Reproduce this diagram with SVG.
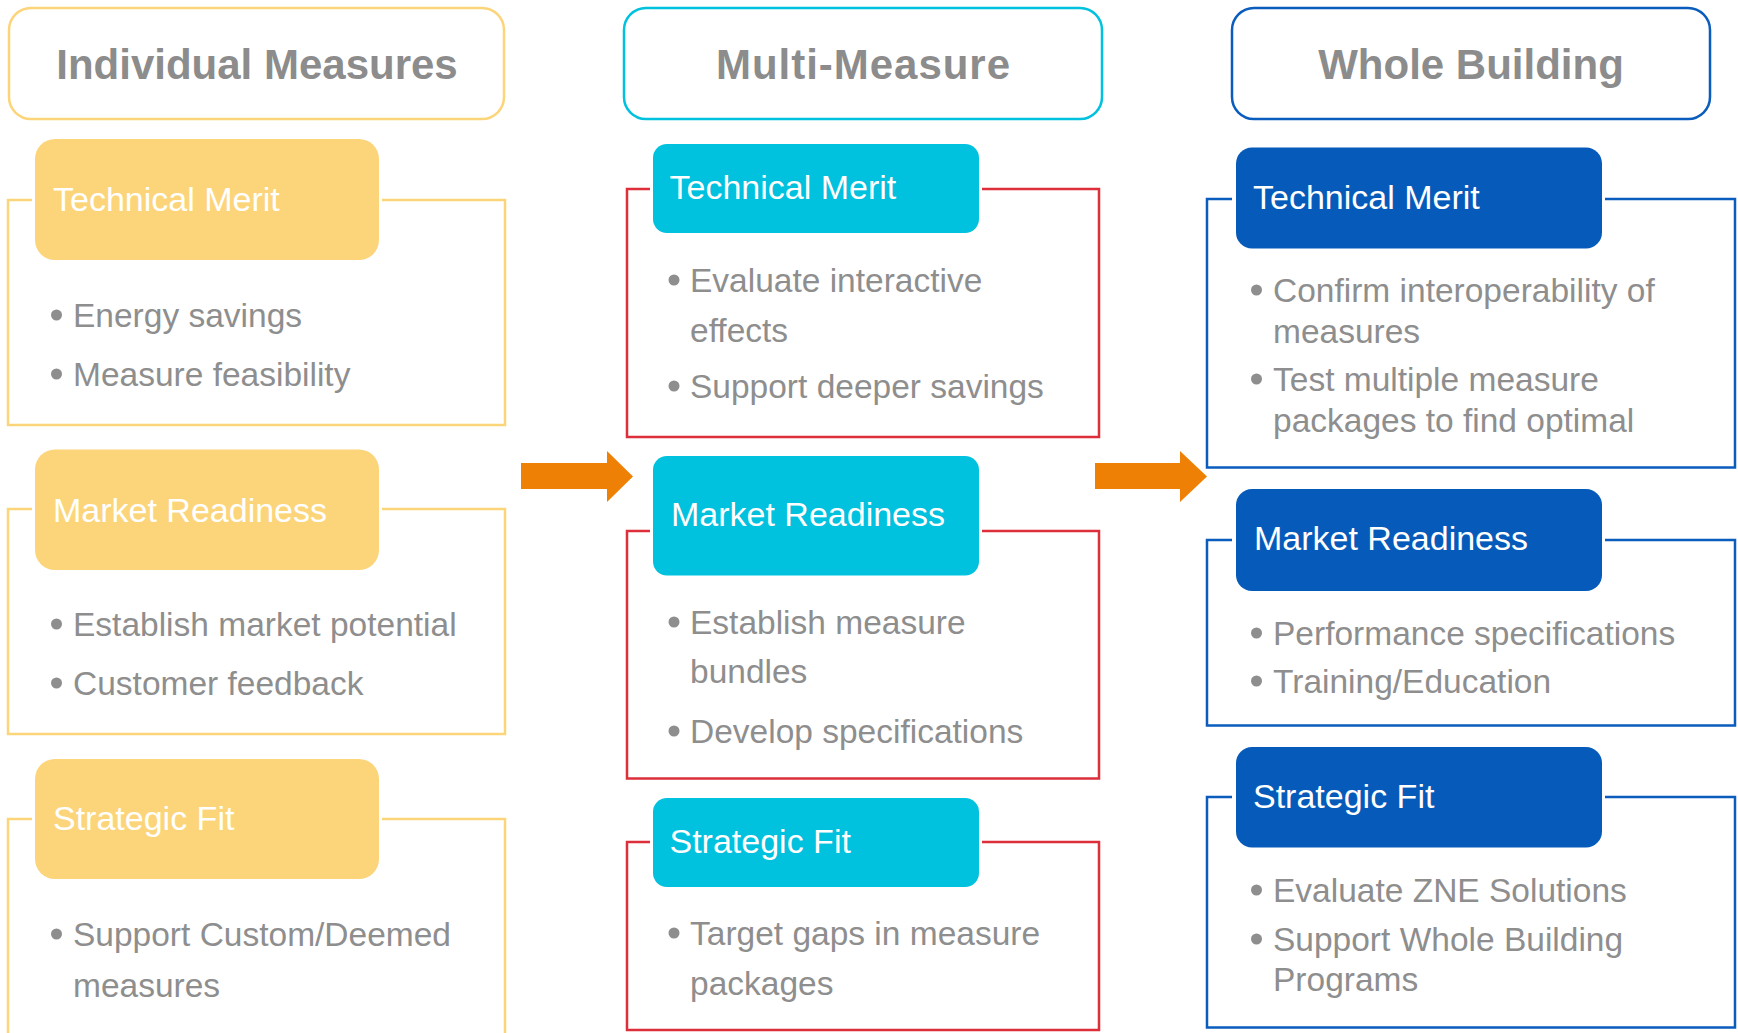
<svg xmlns="http://www.w3.org/2000/svg" width="1738" height="1033" viewBox="0 0 1738 1033">
<style>
text{font-family:"Liberation Sans",Arial,sans-serif}
.title{font-size:42px;font-weight:bold;fill:#8c8c8c;text-anchor:middle}
.lbl{font-size:34px;fill:#ffffff}
.bul{font-size:33.5px;fill:#8e8e8e}
.dot{fill:#8e8e8e}
.hy{fill:#ffffff;stroke:#fcd57a;stroke-width:2.5}
.hc{fill:#ffffff;stroke:#00c1de;stroke-width:2.5}
.hb{fill:#ffffff;stroke:#0a5cbd;stroke-width:2.5}
.by{fill:#fcd57a}
.bc{fill:#00c1de}
.bb{fill:#065bba}
.ky{fill:none;stroke:#fcd57a;stroke-width:2.5}
.kr{fill:none;stroke:#dc2f3a;stroke-width:2.5}
.kb{fill:none;stroke:#0a5cbd;stroke-width:2.5}
.arr{fill:#ee8105}
</style>
<rect width="1738" height="1033" fill="#ffffff"/>

<!-- Column 1: Individual Measures -->
<g id="hdr-individual">
<rect class="hy" x="9" y="8" width="495" height="111" rx="22"/>
<text class="title" x="257" y="79">Individual Measures</text>
</g>
<g id="ind-technical">
<path class="ky" d="M32 200 H8 V425 H505 V200 H382"/>
<rect class="by" x="35" y="139" width="344" height="121" rx="20"/>
<text class="lbl" x="53" y="211">Technical Merit</text>
<circle class="dot" cx="56.5" cy="315" r="5.5"/>
<text class="bul" x="73" y="327">Energy savings</text>
<circle class="dot" cx="56.5" cy="374" r="5.5"/>
<text class="bul" x="73" y="386">Measure feasibility</text>
</g>
<g id="ind-market">
<path class="ky" d="M32 509 H8 V734 H505 V509 H382"/>
<rect class="by" x="35" y="449.5" width="344" height="120.5" rx="20"/>
<text class="lbl" x="53" y="522">Market Readiness</text>
<circle class="dot" cx="56.5" cy="624" r="5.5"/>
<text class="bul" x="73" y="636">Establish market potential</text>
<circle class="dot" cx="56.5" cy="683" r="5.5"/>
<text class="bul" x="73" y="695">Customer feedback</text>
</g>
<g id="ind-strategic">
<path class="ky" d="M32 819 H8 V1040 M505 1040 V819 H382"/>
<rect class="by" x="35" y="759" width="344" height="120" rx="20"/>
<text class="lbl" x="53" y="830">Strategic Fit</text>
<circle class="dot" cx="56.5" cy="934" r="5.5"/>
<text class="bul" x="73" y="946">Support Custom/Deemed</text>
<text class="bul" x="73" y="997">measures</text>
</g>

<!-- Column 2: Multi-Measure -->
<g id="hdr-multi">
<rect class="hc" x="624" y="8" width="478" height="111" rx="22"/>
<text class="title" x="863" y="79" textLength="294">Multi-Measure</text>
</g>
<g id="multi-technical">
<path class="kr" d="M650 189 H627 V437 H1099 V189 H982"/>
<rect class="bc" x="653" y="144" width="326" height="89" rx="14"/>
<text class="lbl" x="669.5" y="199">Technical Merit</text>
<circle class="dot" cx="674" cy="280" r="5.5"/>
<text class="bul" x="690" y="292">Evaluate interactive</text>
<text class="bul" x="690" y="342">effects</text>
<circle class="dot" cx="674" cy="386" r="5.5"/>
<text class="bul" x="690" y="398">Support deeper savings</text>
</g>
<g id="multi-market">
<path class="kr" d="M650 531 H627 V778.5 H1099 V531 H982"/>
<rect class="bc" x="653" y="456" width="326" height="119.5" rx="14"/>
<text class="lbl" x="671" y="526">Market Readiness</text>
<circle class="dot" cx="674" cy="622" r="5.5"/>
<text class="bul" x="690" y="634">Establish measure</text>
<text class="bul" x="690" y="683">bundles</text>
<circle class="dot" cx="674" cy="731" r="5.5"/>
<text class="bul" x="690" y="743">Develop specifications</text>
</g>
<g id="multi-strategic">
<path class="kr" d="M650 842 H627 V1030 H1099 V842 H982"/>
<rect class="bc" x="653" y="798" width="326" height="89" rx="14"/>
<text class="lbl" x="669.5" y="853">Strategic Fit</text>
<circle class="dot" cx="674" cy="933" r="5.5"/>
<text class="bul" x="690" y="945">Target gaps in measure</text>
<text class="bul" x="690" y="995">packages</text>
</g>

<!-- Column 3: Whole Building -->
<g id="hdr-whole">
<rect class="hb" x="1232" y="8" width="478" height="111" rx="22"/>
<text class="title" x="1471" y="79">Whole Building</text>
</g>
<g id="whole-technical">
<path class="kb" d="M1232 199 H1207 V467.5 H1735 V199 H1605"/>
<rect class="bb" x="1236" y="147.5" width="366" height="101" rx="16"/>
<text class="lbl" x="1253" y="209">Technical Merit</text>
<circle class="dot" cx="1256.5" cy="290" r="5.5"/>
<text class="bul" x="1273" y="302">Confirm interoperability of</text>
<text class="bul" x="1273" y="343">measures</text>
<circle class="dot" cx="1256.5" cy="379" r="5.5"/>
<text class="bul" x="1273" y="391">Test multiple measure</text>
<text class="bul" x="1273" y="432">packages to find optimal</text>
</g>
<g id="whole-market">
<path class="kb" d="M1232 540 H1207 V725.5 H1735 V540 H1605"/>
<rect class="bb" x="1236" y="489" width="366" height="102" rx="16"/>
<text class="lbl" x="1254" y="550">Market Readiness</text>
<circle class="dot" cx="1256.5" cy="633" r="5.5"/>
<text class="bul" x="1273" y="645">Performance specifications</text>
<circle class="dot" cx="1256.5" cy="681" r="5.5"/>
<text class="bul" x="1273" y="693">Training/Education</text>
</g>
<g id="whole-strategic">
<path class="kb" d="M1232 797 H1207 V1027.5 H1735 V797 H1605"/>
<rect class="bb" x="1236" y="747" width="366" height="100.5" rx="16"/>
<text class="lbl" x="1253" y="807.5">Strategic Fit</text>
<circle class="dot" cx="1256.5" cy="890" r="5.5"/>
<text class="bul" x="1273" y="902">Evaluate ZNE Solutions</text>
<circle class="dot" cx="1256.5" cy="939" r="5.5"/>
<text class="bul" x="1273" y="951">Support Whole Building</text>
<text class="bul" x="1273" y="991">Programs</text>
</g>

<!-- Connectors -->
<g id="connectors">
<path class="arr" d="M521 463 H607 V451 L633 476.5 L607 502 V489 H521 Z"/>
<path class="arr" d="M1095 463 H1180 V451 L1207 476.5 L1180 502 V489 H1095 Z"/>
</g>
</svg>
